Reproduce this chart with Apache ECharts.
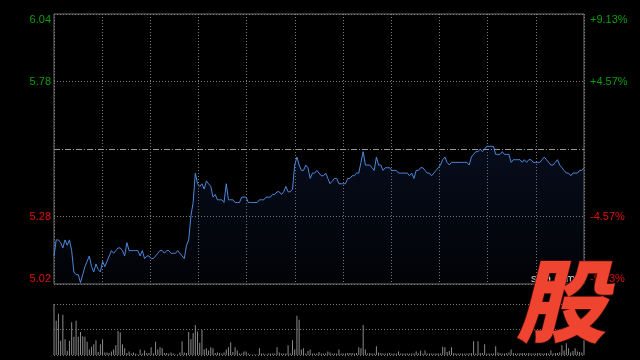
<!DOCTYPE html>
<html><head><meta charset="utf-8">
<script src="https://cdn.jsdelivr.net/npm/echarts@6/dist/echarts.min.js"></script>
<style>html,body{margin:0;padding:0;background:#000}#c{width:640px;height:360px}</style>
</head><body><div id="c"></div>
<script>
const prevClose = 5.53;
const rangePct = 9.13;
const leftTickLabels = ['5.02', '5.28', '', '5.78', '6.04'];
const rightTickLabels = ['-9.13%', '-4.57%', '', '+4.57%', '+9.13%'];

const price = [
  5.13,5.19,5.19,5.18,5.16,5.19,5.17,5.19,5.15,5.07,
  5.06,5.06,5.03,5.06,5.09,5.11,5.13,5.09,5.07,5.10,
  5.08,5.07,5.11,5.09,5.11,5.13,5.15,5.14,5.15,5.16,
  5.16,5.15,5.13,5.18,5.15,5.15,5.15,5.15,5.15,5.13,
  5.15,5.12,5.13,5.13,5.12,5.12,5.13,5.14,5.15,5.15,
  5.14,5.15,5.15,5.14,5.14,5.14,5.15,5.14,5.13,5.12,
  5.17,5.19,5.28,5.33,5.44,5.40,5.39,5.40,5.38,5.41,
  5.40,5.39,5.35,5.36,5.34,5.34,5.34,5.33,5.40,5.34,
  5.34,5.34,5.33,5.33,5.33,5.35,5.35,5.35,5.33,5.33,
  5.33,5.33,5.33,5.34,5.34,5.34,5.35,5.35,5.35,5.36,
  5.36,5.37,5.37,5.36,5.37,5.39,5.37,5.37,5.38,5.47,
  5.50,5.47,5.45,5.45,5.47,5.46,5.42,5.44,5.44,5.45,
  5.44,5.43,5.43,5.44,5.42,5.40,5.41,5.42,5.42,5.40,
  5.40,5.40,5.40,5.42,5.42,5.43,5.43,5.44,5.44,5.48,
  5.52,5.47,5.47,5.47,5.46,5.45,5.50,5.47,5.47,5.45,
  5.46,5.46,5.46,5.45,5.45,5.45,5.44,5.44,5.44,5.44,
  5.44,5.43,5.44,5.42,5.45,5.45,5.46,5.46,5.45,5.44,
  5.44,5.43,5.44,5.45,5.46,5.47,5.49,5.50,5.48,5.47,
  5.48,5.48,5.48,5.48,5.48,5.48,5.48,5.48,5.47,5.50,
  5.51,5.52,5.52,5.53,5.52,5.53,5.54,5.54,5.54,5.54,
  5.51,5.51,5.51,5.52,5.51,5.51,5.51,5.48,5.49,5.49,
  5.49,5.49,5.48,5.49,5.48,5.49,5.49,5.48,5.48,5.48,
  5.48,5.49,5.50,5.49,5.48,5.47,5.47,5.48,5.49,5.47,
  5.46,5.45,5.44,5.44,5.43,5.44,5.44,5.44,5.45,5.45,5.46
];

const volume = [
  100,67,81,28,79,31,8,28,64,36,
  67,36,45,37,36,26,11,16,21,29,
  6,21,31,5,5,4,7,11,19,47,
  44,21,13,4,7,3,5,3,1,11,
  3,9,4,4,15,3,26,11,15,13,
  4,4,3,5,3,1,1,5,27,5,
  4,45,31,43,59,46,24,49,11,13,
  9,15,13,4,5,4,3,5,11,15,
  25,6,15,9,3,3,7,7,3,1,
  1,1,1,13,3,3,1,3,3,3,
  3,15,5,3,3,3,19,3,29,11,
  77,69,11,13,3,8,11,3,3,3,
  6,3,3,3,7,5,3,3,3,11,
  3,3,3,4,4,4,3,4,15,13,
  59,11,3,4,3,3,17,5,4,3,
  3,3,4,3,3,3,7,3,3,3,
  3,3,3,3,7,3,9,3,9,3,
  3,3,3,3,3,3,16,15,6,8,
  15,4,3,3,3,3,3,3,3,4,
  27,3,27,4,4,21,3,3,3,3,
  17,5,4,3,3,4,5,11,4,3,
  3,4,4,4,3,4,3,3,3,4,
  4,3,3,4,3,9,3,4,4,5,
  19,9,23,13,5,8,13,7,6,5,29
];

const GREEN = '#0a9e0a', RED = '#e00d0d', GRID = '#7a7a7a';
const step = rangePct / 2;
const lastIdx = price.length - 1;
const idxOf = v => Math.round((parseFloat(v) + rangePct) / step);
const labelColor = v => { const i = idxOf(v); return i > 2 ? GREEN : (i < 2 ? RED : '#888'); };

const chart = echarts.init(document.getElementById('c'), null, {renderer: 'canvas'});
chart.setOption({
  backgroundColor: '#000',
  animation: false,
  grid: [
    {left: 54, right: 56, top: 14, height: 270, show: true, borderColor: '#737373', borderWidth: 1, backgroundColor: 'transparent', outerBoundsMode: 'none', containLabel: false},
    {left: 54, right: 56, top: 304, height: 51, show: false, outerBoundsMode: 'none', containLabel: false}
  ],
  xAxis: [
    {type: 'value', gridIndex: 0, min: 0, max: lastIdx, interval: lastIdx / 11,
     axisLine: {show: false}, axisTick: {show: false}, axisLabel: {show: false},
     splitLine: {show: true, lineStyle: {color: GRID, type: [1, 2], width: 1}}},
    {type: 'value', gridIndex: 1, min: 0, max: lastIdx,
     axisLine: {show: false}, axisTick: {show: false}, axisLabel: {show: false}, splitLine: {show: false}}
  ],
  yAxis: [
    {type: 'value', gridIndex: 0, position: 'left', min: -rangePct, max: rangePct, interval: step,
     axisLine: {show: false}, axisTick: {show: false},
     axisLabel: {show: true, margin: 3, fontSize: 11, fontFamily: 'Liberation Sans, Arial, sans-serif',
       formatter: v => leftTickLabels[idxOf(v)] || '', color: labelColor,
       verticalAlignMinLabel: 'bottom', verticalAlignMaxLabel: 'top'},
     splitLine: {show: true, lineStyle: {color: [GRID, GRID, 'rgba(0,0,0,0)', GRID, GRID], type: [1, 2], width: 1}}},
    {type: 'value', gridIndex: 0, position: 'right', min: -rangePct, max: rangePct, interval: step,
     axisLine: {show: false}, axisTick: {show: false},
     axisLabel: {show: true, margin: 6, fontSize: 11, fontFamily: 'Liberation Sans, Arial, sans-serif',
       formatter: v => rightTickLabels[idxOf(v)] || '', color: labelColor,
       verticalAlignMinLabel: 'bottom', verticalAlignMaxLabel: 'top'},
     splitLine: {show: false}},
    {type: 'value', gridIndex: 1, min: 0, max: 100, interval: 50,
     axisLine: {show: false}, axisTick: {show: false}, axisLabel: {show: false},
     splitLine: {show: true, lineStyle: {color: GRID, type: [1, 2], width: 1}}}
  ],
  series: [
    {type: 'line', xAxisIndex: 0, yAxisIndex: 0, showSymbol: false, symbol: 'none',
     data: price.map((p, i) => [i, (p / prevClose - 1) * 100]),
     lineStyle: {color: '#4d86db', width: 1},
     areaStyle: {origin: 'start', color: {type: 'linear', x: 0, y: 0, x2: 0, y2: 1,
       colorStops: [{offset: 0, color: 'rgba(30,60,130,0.30)'}, {offset: 1, color: 'rgba(30,60,130,0.06)'}]}},
     markLine: {silent: true, symbol: ['none', 'none'], label: {show: false},
       lineStyle: {color: '#9a9a9a', type: [6, 2, 1, 2], width: 1},
       data: [{yAxis: 0}]}},
    {type: 'bar', xAxisIndex: 1, yAxisIndex: 2, barWidth: 1,
     data: volume.map((v, i) => [i, v]),
     itemStyle: {color: '#8a8a8a'}}
  ],
  graphic: [
    {type: 'text', left: 531, top: 273, z: 50,
     style: {text: 'sina.com', fill: '#d8d8d8', font: '11px Liberation Sans, Arial, sans-serif'}},
    {type: 'text', x: 516, y: 256, z: 100,
     style: {text: '股', fill: '#ef4430', stroke: '#4a0f08', lineWidth: 1.5,
       font: 'italic 900 90px "Noto Sans CJK SC", sans-serif'}}
  ]
});
</script>
</body></html>
